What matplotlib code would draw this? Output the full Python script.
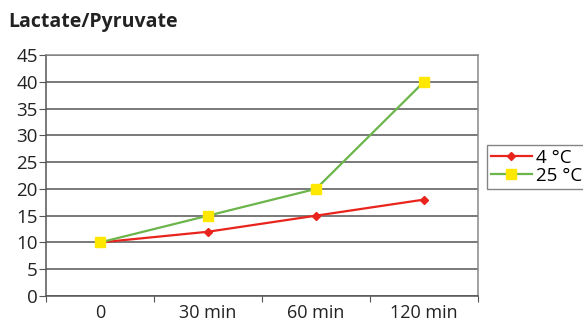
import matplotlib
matplotlib.use('Agg')
import matplotlib.pyplot as plt
import numpy as np

categories = ['0', '30 min', '60 min', '120 min']
temp4 = [10, 12, 15, 18]
temp25 = [10, 15, 20, 40]
series_labels = ['4 °C', '25 °C']
yticks = [0, 5, 10, 15, 20, 25, 30, 35, 40, 45]

plt.rcParams['font.family'] = ['Open Sans', 'DejaVu Sans']

fig = plt.figure(figsize=(5.83, 3.26), dpi=100)
ax = fig.add_axes([46 / 583, 1 - 296 / 326, 432 / 583, 241 / 326])

x = np.arange(len(categories))
ax.plot(x, temp4, color='#e8241c', lw=1.6, marker='D', ms=4.5,
        mfc='#e8241c', mec='#e8241c', label=series_labels[0], zorder=3)
ax.plot(x, temp25, color='#6bb54a', lw=1.6, marker='s', ms=7.5,
        mfc='#ffe800', mec='#ffe800', label=series_labels[1], zorder=3)

ax.set_xlim(-0.5, len(categories) - 0.5)
ax.set_ylim(0, 45)
ax.set_yticks(yticks)
ax.set_yticklabels([str(v) for v in yticks])
ax.set_xticks(np.arange(len(categories) + 1) - 0.5)
ax.set_xticklabels([])
ax.set_xticks(x, minor=True)
ax.set_xticklabels(categories, minor=True)
ax.tick_params(axis='x', which='minor', length=0, pad=6, labelsize=13, colors='#222222')
ax.tick_params(axis='x', which='major', length=4, color='#555555', direction='out')
ax.tick_params(axis='y', length=5, color='#555555', labelsize=13.5, colors='#222222', pad=1)

ax.grid(axis='y', color='#555555', lw=1.1)
ax.set_axisbelow(True)
for s in ['left', 'bottom']:
    ax.spines[s].set_color('#555555')
    ax.spines[s].set_linewidth(1.1)
ax.spines['top'].set_color('#888888')
ax.spines['right'].set_color('#888888')
ax.spines['top'].set_linewidth(1.1)
ax.spines['right'].set_linewidth(1.1)

leg = fig.legend(loc='upper left', bbox_to_anchor=(487 / 583, 1 - 145 / 326),
                 fontsize=13.5, frameon=True, fancybox=False, handlelength=2.2,
                 handletextpad=0.2, borderpad=0.2, labelspacing=0.0,
                 borderaxespad=0, alignment='right')
leg.get_frame().set_edgecolor('#666666')
leg.get_frame().set_linewidth(1.0)
for t in leg.get_texts():
    t.set_ha('right')

fig.text(8 / 583, 1 - 22 / 326, 'Lactate/Pyruvate', fontsize=14, fontweight='bold',
         color='#222222', va='center', ha='left')

fig.savefig('out.png', dpi=100)
